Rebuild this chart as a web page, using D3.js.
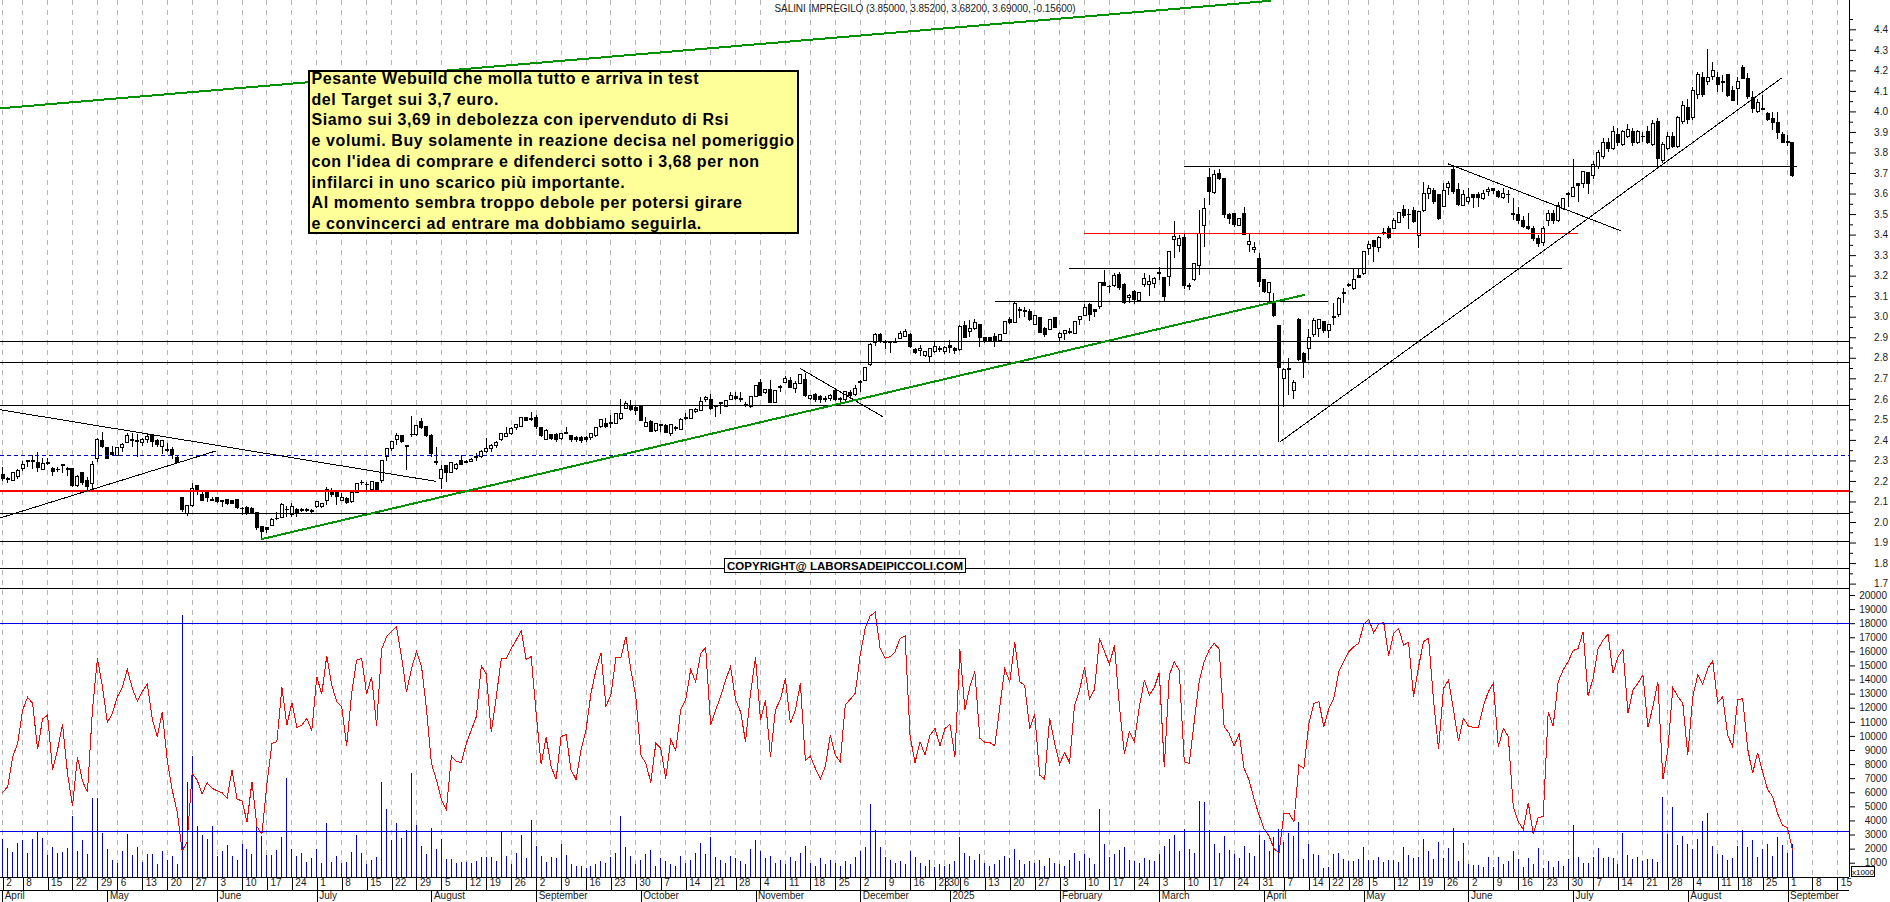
<!DOCTYPE html>
<html>
<head>
<meta charset="utf-8">
<title>Salini Impregilo</title>
<script src="https://d3js.org/d3.v7.min.js"></script>
<style>
  html, body { margin: 0; padding: 0; background: white; overflow: hidden; }
  svg { display: block; background: white; font-family: "Liberation Sans", Arial, sans-serif; }
  .tick text { font-size: 10px; fill: #1a1a1a; }
</style>
</head>
<body>
<svg id="chart" width="1890" height="902"></svg>
<script>
// daily candles, one row per session: open, high, low, close (Apr 2024 - Sep 2025)
const candles = [
[2.23,2.27,2.20,2.21],[2.21,2.22,2.19,2.21],[2.20,2.24,2.20,2.24],[2.22,2.26,2.21,2.25],[2.26,2.295,2.25,2.28],
[2.30,2.30,2.27,2.295],[2.30,2.326,2.26,2.30],[2.29,2.34,2.245,2.265],[2.257,2.31,2.254,2.286],[2.29,2.313,2.276,2.29],
[2.262,2.267,2.226,2.245],[2.257,2.27,2.245,2.257],[2.273,2.283,2.24,2.279],[2.262,2.267,2.226,2.254],[2.262,2.262,2.169,2.18],
[2.179,2.228,2.169,2.221],[2.242,2.245,2.18,2.192],[2.20,2.221,2.156,2.172],[2.19,2.299,2.159,2.281],[2.307,2.408,2.294,2.403],
[2.398,2.437,2.359,2.367],[2.364,2.367,2.307,2.31],[2.34,2.37,2.323,2.328],[2.323,2.367,2.32,2.364],[2.362,2.383,2.343,2.378],
[2.388,2.432,2.383,2.419],[2.40,2.435,2.364,2.40],[2.395,2.429,2.318,2.395],[2.388,2.408,2.372,2.403],[2.403,2.429,2.383,2.416],
[2.419,2.429,2.367,2.393],[2.398,2.403,2.367,2.378],[2.37,2.40,2.331,2.398],[2.351,2.383,2.343,2.351],[2.351,2.367,2.307,2.327],
[2.315,2.327,2.286,2.291],[2.121,2.124,2.051,2.062],[2.043,2.083,2.03,2.078],[2.08,2.189,2.075,2.164],[2.177,2.181,2.132,2.156],
[2.132,2.156,2.103,2.104],[2.148,2.153,2.099,2.119],[2.11,2.124,2.104,2.11],[2.121,2.124,2.095,2.10],[2.103,2.108,2.072,2.103],
[2.108,2.112,2.083,2.088],[2.103,2.108,2.088,2.088],[2.108,2.111,2.062,2.07],[2.067,2.075,2.035,2.067],[2.072,2.078,2.035,2.046],
[2.064,2.075,2.04,2.046],[2.047,2.047,1.96,1.974],[1.978,1.981,1.913,1.953],[1.973,1.978,1.945,1.965],[1.983,2.018,1.98,2.013],
[2.018,2.05,2.01,2.018],[2.022,2.091,2.018,2.083],[2.062,2.078,2.026,2.062],[2.038,2.095,2.026,2.075],[2.062,2.067,2.026,2.046],
[2.059,2.067,2.05,2.059],[2.059,2.067,2.048,2.059],[2.056,2.062,2.04,2.056],[2.075,2.104,2.067,2.099],[2.075,2.095,2.07,2.091],
[2.103,2.172,2.083,2.156],[2.146,2.164,2.124,2.132],[2.145,2.156,2.083,2.124],[2.107,2.14,2.104,2.12],[2.115,2.124,2.09,2.094],
[2.099,2.156,2.091,2.145],[2.145,2.192,2.14,2.188],[2.193,2.205,2.18,2.193],[2.184,2.193,2.156,2.184],[2.156,2.20,2.15,2.197],
[2.193,2.197,2.156,2.16],[2.20,2.30,2.19,2.30],[2.318,2.362,2.297,2.357],[2.356,2.395,2.345,2.393],[2.40,2.432,2.375,2.422],
[2.419,2.424,2.383,2.393],[2.372,2.375,2.254,2.372],[2.427,2.517,2.416,2.427],[2.427,2.474,2.42,2.47],[2.49,2.507,2.453,2.458],
[2.463,2.465,2.416,2.421],[2.421,2.429,2.315,2.335],[2.294,2.364,2.278,2.294],[2.211,2.278,2.161,2.255],[2.273,2.278,2.197,2.242],
[2.242,2.294,2.237,2.291],[2.262,2.286,2.254,2.281],[2.299,2.326,2.278,2.281],[2.294,2.302,2.286,2.294],[2.296,2.31,2.291,2.305],
[2.318,2.338,2.297,2.318],[2.32,2.35,2.31,2.345],[2.345,2.41,2.335,2.36],[2.36,2.38,2.34,2.375],[2.375,2.395,2.36,2.385],
[2.40,2.436,2.397,2.432],[2.416,2.465,2.413,2.429],[2.429,2.465,2.424,2.457],[2.461,2.478,2.448,2.474],[2.465,2.51,2.463,2.51],
[2.509,2.512,2.49,2.494],[2.502,2.535,2.494,2.502],[2.509,2.522,2.452,2.465],[2.461,2.465,2.416,2.419],[2.403,2.452,2.40,2.448],
[2.424,2.429,2.40,2.408],[2.424,2.433,2.39,2.40],[2.408,2.436,2.40,2.432],[2.436,2.465,2.427,2.436],[2.42,2.425,2.39,2.40],
[2.413,2.42,2.39,2.40],[2.411,2.42,2.385,2.397],[2.413,2.42,2.39,2.403],[2.413,2.436,2.40,2.429],[2.421,2.465,2.415,2.462],
[2.465,2.50,2.46,2.497],[2.481,2.505,2.46,2.465],[2.484,2.522,2.46,2.484],[2.481,2.53,2.478,2.53],[2.504,2.598,2.497,2.53],
[2.551,2.59,2.549,2.575],[2.565,2.595,2.541,2.546],[2.556,2.57,2.522,2.543],[2.567,2.57,2.492,2.494],[2.465,2.51,2.461,2.486],
[2.492,2.495,2.438,2.44],[2.445,2.482,2.44,2.481],[2.473,2.478,2.44,2.473],[2.468,2.475,2.435,2.437],[2.429,2.478,2.419,2.476],
[2.46,2.468,2.445,2.46],[2.453,2.505,2.448,2.50],[2.509,2.53,2.497,2.509],[2.505,2.55,2.50,2.549],[2.536,2.554,2.533,2.546],
[2.543,2.611,2.541,2.588],[2.595,2.614,2.586,2.606],[2.598,2.622,2.546,2.551],[2.564,2.57,2.513,2.564],[2.58,2.586,2.525,2.58],
[2.562,2.595,2.558,2.593],[2.596,2.632,2.595,2.617],[2.612,2.632,2.595,2.601],[2.60,2.632,2.587,2.60],[2.574,2.585,2.562,2.574],
[2.562,2.614,2.554,2.611],[2.611,2.667,2.608,2.666],[2.68,2.697,2.614,2.616],[2.63,2.65,2.625,2.647],[2.647,2.692,2.578,2.583],
[2.583,2.645,2.58,2.643],[2.66,2.668,2.635,2.66],[2.679,2.713,2.676,2.70],[2.689,2.705,2.652,2.655],[2.651,2.689,2.63,2.676],
[2.676,2.722,2.67,2.72],[2.692,2.725,2.61,2.614],[2.601,2.62,2.595,2.616],[2.622,2.63,2.585,2.595],[2.611,2.62,2.58,2.595],
[2.60,2.615,2.585,2.60],[2.60,2.625,2.59,2.616],[2.639,2.645,2.59,2.595],[2.60,2.61,2.585,2.60],[2.595,2.64,2.59,2.635],
[2.63,2.642,2.60,2.615],[2.62,2.668,2.615,2.652],[2.684,2.692,2.635,2.684],[2.687,2.754,2.685,2.754],[2.765,2.871,2.76,2.866],
[2.874,2.92,2.855,2.915],[2.915,2.92,2.874,2.879],[2.879,2.887,2.843,2.879],[2.876,2.884,2.822,2.876],[2.879,2.895,2.87,2.879],
[2.895,2.93,2.89,2.92],[2.903,2.939,2.90,2.929],[2.911,2.92,2.85,2.855],[2.838,2.846,2.819,2.825],[2.834,2.863,2.809,2.846],
[2.811,2.83,2.805,2.83],[2.806,2.846,2.778,2.846],[2.83,2.879,2.825,2.853],[2.843,2.858,2.83,2.843],[2.83,2.855,2.82,2.851],
[2.861,2.887,2.822,2.851],[2.844,2.851,2.819,2.834],[2.841,2.96,2.835,2.951],[2.956,2.98,2.895,2.898],[2.93,2.984,2.903,2.943],
[2.943,2.989,2.935,2.972],[2.963,2.963,2.854,2.899],[2.899,2.903,2.87,2.886],[2.899,2.90,2.875,2.886],[2.906,2.919,2.854,2.883],
[2.883,2.915,2.875,2.914],[2.919,2.98,2.915,2.977],[2.984,3.0,2.964,2.972],[2.974,3.073,2.968,3.065],[3.037,3.049,2.992,3.029],
[3.028,3.045,3.0,3.028],[3.026,3.04,2.98,2.984],[2.963,3.007,2.96,3.007],[2.998,3.0,2.919,2.925],[2.943,2.95,2.90,2.911],
[2.938,2.985,2.935,2.984],[2.998,3.0,2.945,2.946],[2.899,2.925,2.878,2.919],[2.919,2.935,2.886,2.932],[2.927,2.943,2.914,2.927],
[2.919,2.98,2.915,2.977],[2.987,3.005,2.96,3.002],[3.008,3.06,3.005,3.047],[3.06,3.065,2.979,3.013],[3.036,3.04,3.0,3.024],
[3.052,3.168,3.04,3.167],[3.167,3.227,3.15,3.154],[3.149,3.154,3.117,3.149],[3.151,3.211,3.145,3.201],[3.208,3.219,3.13,3.141],
[3.159,3.162,3.06,3.068],[3.093,3.109,3.065,3.102],[3.123,3.128,3.06,3.086],[3.081,3.12,3.075,3.117],[3.158,3.211,3.146,3.187],
[3.158,3.203,3.102,3.172],[3.162,3.195,3.138,3.187],[3.214,3.244,3.179,3.214],[3.193,3.195,3.073,3.097],[3.195,3.32,3.151,3.317],
[3.377,3.466,3.287,3.391],[3.346,3.398,3.317,3.383],[3.388,3.401,3.135,3.151],[3.151,3.162,3.13,3.151],[3.179,3.26,3.175,3.258],
[3.25,3.52,3.203,3.403],[3.443,3.576,3.341,3.528],[3.68,3.726,3.544,3.609],[3.606,3.714,3.60,3.693],[3.698,3.718,3.666,3.674],
[3.671,3.672,3.479,3.50],[3.50,3.505,3.45,3.476],[3.503,3.507,3.438,3.451],[3.443,3.48,3.44,3.479],[3.503,3.533,3.398,3.401],
[3.351,3.406,3.317,3.367],[3.328,3.365,3.312,3.338],[3.284,3.309,3.146,3.171],[3.182,3.185,3.114,3.122],[3.117,3.168,3.073,3.166],
[3.073,3.114,3.0,3.008],[2.955,2.96,2.39,2.752],[2.70,2.75,2.56,2.745],[2.748,2.797,2.62,2.748],[2.64,2.69,2.60,2.68],
[2.987,2.995,2.785,2.79],[2.821,2.83,2.70,2.778],[2.846,2.938,2.79,2.899],[2.914,2.992,2.90,2.98],[2.943,2.99,2.899,2.984],
[2.977,2.98,2.92,2.932],[2.932,2.963,2.895,2.963],[3.0,3.065,2.96,3.0],[3.011,3.098,3.0,3.09],[3.117,3.138,3.068,3.117],
[3.15,3.163,3.146,3.158],[3.138,3.235,3.13,3.179],[3.203,3.23,3.19,3.19],[3.211,3.322,3.205,3.317],[3.333,3.37,3.30,3.351],
[3.369,3.373,3.268,3.341],[3.336,3.393,3.317,3.386],[3.409,3.43,3.398,3.409],[3.43,3.442,3.38,3.385],[3.43,3.479,3.425,3.469],
[3.46,3.508,3.455,3.508],[3.52,3.542,3.48,3.492],[3.5,3.523,3.425,3.5],[3.516,3.533,3.455,3.463],[3.396,3.511,3.336,3.511],
[3.515,3.657,3.51,3.599],[3.601,3.641,3.573,3.625],[3.617,3.625,3.55,3.56],[3.593,3.60,3.471,3.479],[3.536,3.649,3.533,3.617],
[3.628,3.662,3.593,3.651],[3.719,3.73,3.60,3.609],[3.622,3.649,3.54,3.547],[3.544,3.617,3.54,3.593],[3.56,3.625,3.55,3.58],
[3.596,3.60,3.528,3.58],[3.593,3.609,3.536,3.58],[3.576,3.617,3.57,3.601],[3.61,3.633,3.589,3.62],[3.625,3.628,3.60,3.617],
[3.612,3.617,3.576,3.585],[3.581,3.625,3.575,3.601],[3.596,3.617,3.552,3.596],[3.503,3.576,3.471,3.503],[3.498,3.536,3.45,3.471],
[3.47,3.49,3.43,3.44],[3.44,3.505,3.42,3.43],[3.43,3.44,3.37,3.38],[3.38,3.40,3.34,3.355],[3.36,3.44,3.345,3.43],
[3.47,3.52,3.44,3.503],[3.503,3.52,3.45,3.471],[3.47,3.56,3.46,3.544],[3.528,3.576,3.52,3.576],[3.6,3.609,3.536,3.6],
[3.585,3.766,3.581,3.63],[3.649,3.649,3.56,3.638],[3.649,3.706,3.628,3.706],[3.701,3.705,3.60,3.649],[3.69,3.76,3.67,3.74],
[3.73,3.81,3.72,3.80],[3.78,3.87,3.77,3.85],[3.85,3.87,3.80,3.82],[3.82,3.93,3.81,3.90],[3.89,3.92,3.83,3.85],
[3.84,3.91,3.83,3.90],[3.88,3.94,3.87,3.91],[3.90,3.92,3.83,3.85],[3.85,3.91,3.84,3.90],[3.88,3.90,3.85,3.88],
[3.90,3.93,3.84,3.85],[3.84,3.96,3.83,3.94],[3.95,3.97,3.72,3.77],[3.76,3.85,3.75,3.84],[3.82,3.90,3.81,3.88],
[3.88,3.90,3.82,3.83],[3.83,3.98,3.82,3.97],[3.95,4.05,3.94,4.03],[4.02,4.06,3.94,3.96],[3.97,4.12,3.96,4.10],
[4.08,4.19,4.06,4.18],[4.166,4.194,4.069,4.08],[4.148,4.303,4.129,4.166],[4.171,4.243,4.153,4.197],[4.166,4.194,4.093,4.129],
[4.145,4.178,4.093,4.145],[4.178,4.18,4.07,4.077],[4.10,4.124,4.05,4.053],[4.113,4.166,4.032,4.145],[4.215,4.226,4.157,4.161],
[4.158,4.186,4.06,4.072],[4.069,4.10,3.991,4.014],[4.002,4.059,3.991,4.043],[4.012,4.08,4.007,4.012],[3.991,3.995,3.955,3.963],
[3.967,3.996,3.91,3.945],[3.944,3.996,3.866,3.897],[3.889,3.902,3.845,3.851],[3.853,3.885,3.833,3.853],[3.85,3.852,3.682,3.69]
];

// daily volume, same sessions
const volumes = [
2680,2020,1740,2370,2610,1665,2680,3200,2780,1550,
2090,1660,1780,2020,4315,1830,2610,1620,5570,5570,
3085,1970,1190,950,1830,3040,1550,2090,1025,1620,
1620,910,1830,1190,1475,910,18600,6750,8570,3600,
2970,2680,3600,1475,1830,2260,1475,1190,2330,1970,
1620,4150,2895,1550,1550,1900,2800,6990,1970,1475,
1665,1070,1310,1970,950,3790,1070,1475,1000,1070,
1780,2970,1665,910,1190,1380,6730,4810,2610,3790,
2730,3320,7390,3680,2180,1620,3440,1970,2680,1280,
1280,1000,1025,1070,950,1120,1380,1430,1380,1120,
3200,1475,910,1710,2970,1310,4030,2180,1475,1070,
1430,1300,2330,1550,910,770,770,600,770,910,
1100,1000,1400,1700,4300,2100,1500,900,1200,1600,
1900,800,1300,1100,900,800,1500,1000,1200,1700,
2400,1600,2800,1400,1200,1000,1500,1300,1100,900,
2000,2600,1800,1300,1500,1000,1200,900,1400,1100,
1700,2200,1000,800,1300,900,1200,1000,800,1100,
900,1400,1800,2100,5200,3300,2100,1400,1200,1000,
1100,900,1800,1400,1000,800,1200,700,900,800,
900,1100,2800,1700,1500,1200,1600,1000,800,900,
1200,1500,1300,2000,1200,900,1100,1000,1200,800,
1300,1000,900,800,1200,1700,1100,1600,1300,900,
4800,2300,1400,1600,1900,2100,1200,1100,1000,1300,
1200,1100,1600,2200,2700,3000,1800,3400,2000,1700,
5400,5300,3300,2300,1700,2900,1900,1600,1300,2200,
1700,1500,3000,2600,1800,2800,3400,2500,3100,2900,
3910,1240,2330,1620,1550,600,670,1620,1710,1280,
1150,1150,1280,2090,1190,1190,1380,1025,1190,1190,
1070,2090,1550,1340,1400,2680,1830,1280,2470,1340,
2040,3440,1150,2400,910,810,810,690,1400,690,
1400,910,1150,1830,1280,690,1340,910,2040,650,
1120,690,1120,770,1280,3680,1400,1000,1000,1400,
2040,1340,1400,1340,910,3100,1550,1280,1400,1120,
1240,1280,1050,5660,3040,4950,2260,2890,2330,1970,
2680,3960,4530,2180,1620,1550,1190,1340,2180,3290,
2110,2610,1400,1970,2330,1475,2790,2260,1660,2330
];

// red oscillator drawn over the volume panel, same sessions
const oscillator = [
5970,6400,8500,9470,11835,12740,12310,9050,11200,11480,
7620,9000,10820,7340,5025,8500,6800,6000,11840,15500,
13500,10960,11600,12780,13440,14720,13370,12480,13140,13680,
11200,9940,11670,8290,6160,4620,1830,2490,7340,6870,
5880,6680,6280,6110,5970,5570,7580,5520,5380,3910,
6750,3560,3040,6630,9470,9590,13440,10770,12360,10600,
10770,11240,10370,14200,12970,15690,13610,12430,12070,9300,
13020,15380,15500,12970,14200,10720,16140,17040,17400,17750,
15620,13090,14790,15980,14960,11950,8050,6870,5450,4790,
8570,8170,8120,9470,10420,11360,14980,14390,10250,12780,
15460,15500,16210,16800,17470,15430,15620,11600,7980,9900,
7820,6910,9940,10110,7580,6910,8990,10420,13020,14680,
15900,12120,12900,15550,15550,17040,14680,12780,8640,8050,
6700,9470,9110,6980,9750,8950,11880,12550,14720,13840,
15860,16280,10770,11840,12780,13970,14910,12550,11720,9590,
13020,15570,11130,12550,8520,11840,12600,14080,10890,11840,
13730,8240,8570,7700,6940,7820,10060,8640,8170,12190,
12600,13020,15740,17630,18510,18770,16210,15500,15620,15980,
16920,17090,9990,8100,9590,8640,10060,10530,9300,10530,
10820,8520,16140,11840,13490,14560,9830,9540,9520,9300,
12070,14750,13850,16690,13850,13570,10530,11550,7220,6940,
11240,9470,8000,8810,8100,12190,13250,14860,12600,13300,
16920,15980,15080,16450,12070,8710,10300,9590,12070,13970,
12900,13440,14490,7770,14320,15270,14630,8170,8050,11010,
13850,15270,16100,16570,16170,10650,10180,9280,10130,7700,
6870,5500,4400,3400,2900,2000,1700,4500,4500,3910,
7930,7700,10890,12310,12430,10650,11950,12660,14560,15270,
15980,16330,16570,17940,18270,17320,17940,18060,15690,17280,
17630,16450,16640,12780,14910,16690,16920,12550,9040,13370,
13970,11840,9640,11240,10700,10610,10610,12120,13140,13730,
9230,10530,9940,4980,3910,3370,5260,3040,4200,4270,
11700,10700,13850,14680,15270,16050,16210,17400,12850,14080,
16170,16800,17210,14440,15620,16140,11600,13250,13730,14320,
10610,12070,13850,6910,8990,13440,12780,12310,8640,12780,
14320,13680,14790,15310,12360,12780,10060,9230,12550,12660,
9110,7340,8810,7460,6200,5700,4500,3650,3500,1900
];

// session number of each weekly tick and the day shown next to it
const weekIdx = [0,4,9,14,19, 23,28,33,38, 43,48,53,58, 63,68,73,78,83, 88,93,97,102, 107,112,117,122,127,
  132,137,142,147, 152,157,162,167, 172,177,182,187,189, 192,197,202,207, 212,217,222,227, 232,237,242,247,252,
  257,262,266,270, 274,279,284,289, 294,299,304,309,314, 319,324,329,334, 339,344,348,353, 358,363,368];
const weekLabels = [2,8,15,22,29, 6,13,20,27, 3,10,17,24, 1,8,15,22,29, 5,12,19,26, 2,9,16,23,30,
  7,14,21,28, 4,11,18,25, 2,9,16,23,30, 6,13,20,27, 3,10,17,24, 3,10,17,24,31,
  7,14,22,28, 5,12,19,26, 2,9,16,23,30, 7,14,21,28, 4,11,18,25, 1,8,15];
const monthIdx = [0,21,43,63,86,107,128,151,172,190,212,232,253,273,294,315,338,358];
const monthLabels = ["April","May","June","July","August","September","October","November","December","2025",
  "February","March","April","May","June","July","August","September"];

const priceTicks = d3.range(17, 45).map(d => d / 10);
const volumeTicks = d3.range(1, 21).map(d => d * 1000);

// support and resistance levels
const fullLevels = [2.88, 2.778, 2.567, 2.042, 1.906, 1.775, 1.677];
const redLevel = 2.151;
const blueDashLevel = 2.325;
const volumeLevels = [18000, 3200];
// partial levels: price, first session, last session
const partialBlack = [[3.733,237,360],[3.235,213.9,312.8],[3.075,199.1,265.9]];
const partialRed = [[3.406,216.9,316]];
// trendlines: session, price, session, price
const greenLines = [[-1,4.014,254.4,4.539],[51.8,1.916,261.2,3.107]];
const blackLines = [[-1,2.016,42.9,2.347],[-1,2.549,86.9,2.198],[159.9,2.749,176.6,2.512],
  [256.2,2.39,356.9,4.164],[289.9,3.745,324.6,3.418]];

const titleText = "SALINI IMPREGILO (3.85000, 3.85200, 3.68200, 3.69000, -0.15600)";
const noteLines = [
  "Pesante Webuild che molla tutto e arriva in test",
  "del Target sui 3,7 euro.",
  "Siamo sui 3,69 in debolezza con ipervenduto di Rsi",
  "e volumi. Buy solamente in reazione decisa nel pomeriggio",
  "con l'idea di comprare e difenderci sotto i 3,68 per non",
  "infilarci in uno scarico più importante.",
  "Al momento sembra troppo debole per potersi girare",
  "e convincerci ad entrare ma dobbiamo seguirla."
];
const copyrightText = "COPYRIGHT@ LABORSADEIPICCOLI.COM";

const svg = d3.select("#chart");
const plotRight = 1849;
const plotBottom = 877;

const x = d3.scaleLinear().domain([0, 358]).range([2.7, 1787.5]);
const yPrice = d3.scaleLinear().domain([1.7, 4.4]).range([583.6, 29.3]);
const yVol = d3.scaleLinear().domain([0, 20000]).range([876.8, 595]);

svg.append("defs").append("clipPath").attr("id", "plot")
  .append("rect").attr("width", plotRight).attr("height", plotBottom);

// weekly grid
svg.append("g").selectAll("line").data(weekIdx).join("line")
  .attr("x1", d => x(d)).attr("x2", d => x(d))
  .attr("y1", 0).attr("y2", plotBottom)
  .attr("stroke", "#b4b4b4").attr("stroke-dasharray", "5,5")
  .attr("shape-rendering", "crispEdges");

// volume bars and oscillator
svg.append("g").selectAll("line").data(volumes).join("line")
  .attr("x1", (d, i) => x(i)).attr("x2", (d, i) => x(i))
  .attr("y1", yVol(0)).attr("y2", d => yVol(d))
  .attr("stroke", "#0000e6").attr("shape-rendering", "crispEdges");

svg.append("path").datum(oscillator)
  .attr("fill", "none").attr("stroke", "#ff0000").attr("stroke-width", 1)
  .attr("shape-rendering", "crispEdges")
  .attr("d", d3.line().x((d, i) => x(i)).y(d => yVol(d)));

// candles
const candle = svg.append("g").selectAll("g").data(candles).join("g")
  .attr("shape-rendering", "crispEdges");
candle.append("line")
  .attr("x1", (d, i) => x(i)).attr("x2", (d, i) => x(i))
  .attr("y1", d => yPrice(d[1])).attr("y2", d => yPrice(d[2]))
  .attr("stroke", "black");
candle.append("rect")
  .attr("x", (d, i) => Math.round(x(i)) - 1.5)
  .attr("y", d => yPrice(Math.max(d[0], d[3])))
  .attr("width", 3)
  .attr("height", d => Math.max(0.6, Math.abs(yPrice(d[0]) - yPrice(d[3]))))
  .attr("fill", d => d[3] >= d[0] ? "white" : "black")
  .attr("stroke", "black");

// levels and trendlines sit on top of the candles
const levels = svg.append("g").attr("clip-path", "url(#plot)").attr("shape-rendering", "crispEdges");
levels.selectAll("line.full").data(fullLevels).join("line").attr("class", "full")
  .attr("x1", 0).attr("x2", plotRight)
  .attr("y1", d => yPrice(d)).attr("y2", d => yPrice(d))
  .attr("stroke", "black");
levels.selectAll("line.partial").data(partialBlack).join("line").attr("class", "partial")
  .attr("x1", d => x(d[1])).attr("x2", d => Math.min(x(d[2]), plotRight))
  .attr("y1", d => yPrice(d[0])).attr("y2", d => yPrice(d[0]))
  .attr("stroke", "black");
levels.selectAll("line.partialred").data(partialRed).join("line").attr("class", "partialred")
  .attr("x1", d => x(d[1])).attr("x2", d => x(d[2]))
  .attr("y1", d => yPrice(d[0])).attr("y2", d => yPrice(d[0]))
  .attr("stroke", "#ff0000");
levels.append("line")
  .attr("x1", 0).attr("x2", plotRight)
  .attr("y1", yPrice(blueDashLevel)).attr("y2", yPrice(blueDashLevel))
  .attr("stroke", "#0000cc").attr("stroke-dasharray", "4,3");
levels.append("line")
  .attr("x1", 0).attr("x2", plotRight)
  .attr("y1", yPrice(redLevel)).attr("y2", yPrice(redLevel))
  .attr("stroke", "#ff0000").attr("stroke-width", 2);
levels.selectAll("line.vol").data(volumeLevels).join("line").attr("class", "vol")
  .attr("x1", 0).attr("x2", plotRight)
  .attr("y1", d => yVol(d)).attr("y2", d => yVol(d))
  .attr("stroke", "#0000e6");
levels.selectAll("line.black").data(blackLines).join("line").attr("class", "black")
  .attr("x1", d => x(d[0])).attr("y1", d => yPrice(d[1]))
  .attr("x2", d => x(d[2])).attr("y2", d => yPrice(d[3]))
  .attr("stroke", "black");
levels.selectAll("line.green").data(greenLines).join("line").attr("class", "green")
  .attr("x1", d => x(d[0])).attr("y1", d => yPrice(d[1]))
  .attr("x2", d => x(d[2])).attr("y2", d => yPrice(d[3]))
  .attr("stroke", "#009000").attr("stroke-width", 2);

// right axes
const priceAxis = d3.axisRight(yPrice).tickValues(priceTicks).tickSize(7).tickFormat(d3.format(".1f"));
svg.append("g").attr("transform", "translate(" + plotRight + ",0)").call(priceAxis)
  .call(g => g.select(".domain").remove())
  .call(g => g.selectAll("text").attr("x", 39).attr("text-anchor", "end"));
const priceMinor = d3.axisRight(yPrice).tickValues(d3.range(17, 44).map(d => d / 10 + 0.05).filter(d => d > 1.7)).tickSize(4).tickFormat("");
svg.append("g").attr("transform", "translate(" + plotRight + ",0)").call(priceMinor)
  .call(g => g.select(".domain").remove());
svg.append("g").attr("transform", "translate(" + plotRight + ",0)")
  .call(d3.axisRight(yPrice).tickValues([4.45]).tickSize(4).tickFormat(""))
  .call(g => g.select(".domain").remove());

const volAxis = d3.axisRight(yVol).tickValues(volumeTicks).tickSize(6).tickFormat(d => d);
svg.append("g").attr("transform", "translate(" + plotRight + ",0)").call(volAxis)
  .call(g => g.select(".domain").remove())
  .call(g => g.selectAll("text").attr("x", 38).attr("text-anchor", "end"));

svg.append("line").attr("x1", plotRight).attr("x2", plotRight).attr("y1", 0).attr("y2", plotBottom)
  .attr("stroke", "black").attr("shape-rendering", "crispEdges");

// bottom axes: week row then month row
const weekAxis = d3.axisBottom(x).tickValues(weekIdx).tickSize(13).tickFormat(d => weekLabels[weekIdx.indexOf(d)]);
svg.append("g").attr("transform", "translate(0," + plotBottom + ")").call(weekAxis)
  .call(g => g.select(".domain").remove())
  .call(g => g.selectAll("text").attr("x", 3).attr("y", 2).attr("dy", "0.71em").attr("text-anchor", "start"))
  .call(g => g.selectAll("line").attr("shape-rendering", "crispEdges"));
const monthAxis = d3.axisBottom(x).tickValues(monthIdx.slice(1)).tickSize(12).tickFormat((d, i) => monthLabels[i + 1]);
svg.append("g").attr("transform", "translate(0,890)").call(monthAxis)
  .call(g => g.select(".domain").remove())
  .call(g => g.selectAll("text").attr("x", 2).attr("y", 2).attr("dy", "0.71em").attr("text-anchor", "start"))
  .call(g => g.selectAll("line").attr("shape-rendering", "crispEdges"));
svg.append("text").attr("x", x(monthIdx[0]) + 2).attr("y", 899).attr("font-size", 10).attr("fill", "#1a1a1a").text(monthLabels[0]);
svg.append("line").attr("x1", x(0)).attr("x2", x(0)).attr("y1", 890).attr("y2", 902).attr("stroke", "black").attr("shape-rendering", "crispEdges");

svg.selectAll(".bottomrule").data([plotBottom, 890.5]).join("line")
  .attr("x1", 0).attr("x2", plotRight).attr("y1", d => d).attr("y2", d => d)
  .attr("stroke", "black").attr("shape-rendering", "crispEdges");

// x1000 box
svg.append("rect").attr("x", 1851.5).attr("y", 866.5).attr("width", 23).attr("height", 10)
  .attr("fill", "white").attr("stroke", "black").attr("shape-rendering", "crispEdges");
svg.append("text").attr("x", 1863).attr("y", 874.5).attr("text-anchor", "middle").attr("font-size", 8).text("x1000");

// title
svg.append("text").attr("x", 925).attr("y", 12).attr("text-anchor", "middle").attr("font-size", 10)
  .attr("textLength", 301).attr("fill", "#1a1a1a").text(titleText);

// note box
svg.append("rect").attr("x", 309).attr("y", 71).attr("width", 489).attr("height", 162)
  .attr("fill", "#ffff99").attr("stroke", "black").attr("stroke-width", 2);
svg.append("g").selectAll("text").data(noteLines).join("text")
  .attr("x", 311.5).attr("y", (d, i) => 84 + i * 20.7)
  .attr("font-size", 16).attr("font-weight", "bold").attr("letter-spacing", "0.6px")
  .attr("fill", "black").text(d => d);

// copyright box
svg.append("rect").attr("x", 724.5).attr("y", 558.5).attr("width", 241).attr("height", 14)
  .attr("fill", "white").attr("stroke", "black").attr("shape-rendering", "crispEdges");
svg.append("text").attr("x", 727).attr("y", 569.5)
  .attr("font-size", 11.5).attr("font-weight", "bold").attr("fill", "black")
  .attr("textLength", 236).attr("lengthAdjust", "spacing").text(copyrightText);
</script>
</body>
</html>
